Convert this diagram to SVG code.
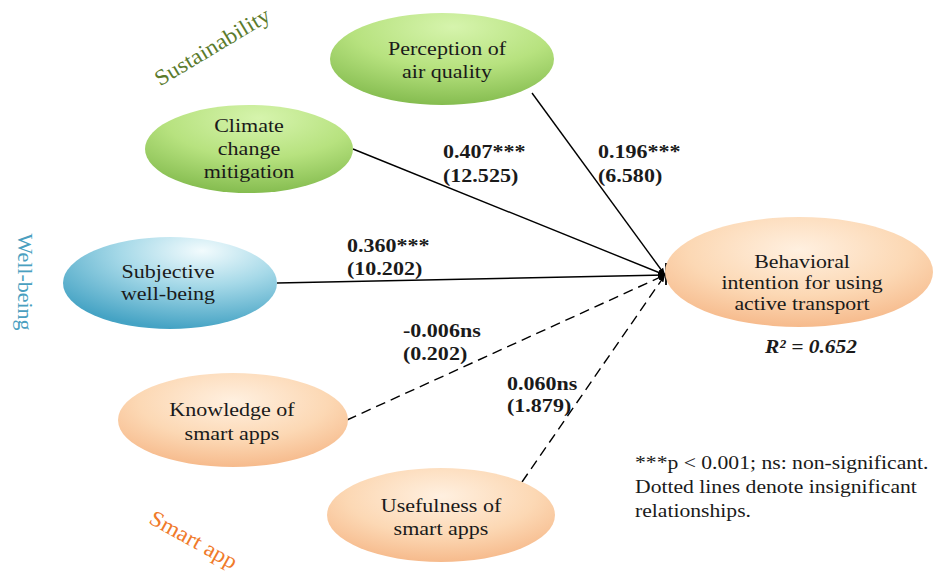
<svg xmlns="http://www.w3.org/2000/svg" width="935" height="576" viewBox="0 0 935 576" font-family="'Liberation Serif', serif">
  <defs>
    <radialGradient id="gGreen" cx="0.55" cy="0.15" r="0.9">
      <stop offset="0" stop-color="#d6f4ad"/>
      <stop offset="0.5" stop-color="#b7e27f"/>
      <stop offset="1" stop-color="#7fb84a"/>
    </radialGradient>
    <radialGradient id="gBlue" cx="0.65" cy="0.15" r="0.85">
      <stop offset="0" stop-color="#f2fbfd"/>
      <stop offset="0.45" stop-color="#a6d9e8"/>
      <stop offset="1" stop-color="#45a3c4"/>
    </radialGradient>
    <radialGradient id="gOrange" cx="0.5" cy="0.3" r="0.75">
      <stop offset="0" stop-color="#fff0e0"/>
      <stop offset="0.55" stop-color="#fcd8b4"/>
      <stop offset="1" stop-color="#f5b585"/>
    </radialGradient>
    <marker id="tip" viewBox="0 0 10 10" refX="10" refY="5" markerWidth="7" markerHeight="7" orient="auto" markerUnits="userSpaceOnUse">
      <path d="M0,1 L10,5 L0,9 z" fill="#000"/>
    </marker>
  </defs>
  <style>
    .solid { stroke: #000; stroke-width: 1.4; fill: none; }
    .dash { stroke: #000; stroke-width: 1.4; fill: none; stroke-dasharray: 10 6; }
  </style>

  <rect width="935" height="576" fill="#fff"/>

  <!-- group captions -->
  <g font-family="'Liberation Serif', serif" font-size="22" text-anchor="middle">
    <text fill="#5b7b2c" transform="translate(216,53) rotate(-31) scale(1.08,1)">Sustainability</text>
    <text fill="#4a9fc0" transform="translate(18,282) rotate(90)">Well-being</text>
    <text fill="#f07a2a" transform="translate(190,546) rotate(29) scale(1.08,1)">Smart app</text>
  </g>

  <!-- paths -->
  <g id="connectors">
    <line class="solid" x1="532" y1="93" x2="665" y2="275" marker-end="url(#tip)"/>
    <line class="solid" x1="353" y1="149" x2="665" y2="275" marker-end="url(#tip)"/>
    <line class="solid" x1="277" y1="283" x2="665" y2="275" marker-end="url(#tip)"/>
    <line class="dash" x1="347" y1="420" x2="665" y2="275" marker-end="url(#tip)"/>
    <line class="dash" x1="522" y1="482" x2="665" y2="275" marker-end="url(#tip)"/>
    <line stroke="#000" stroke-width="1.8" x1="666" y1="263" x2="666" y2="285"/>
  </g>

  <g id="perception" font-family="'Liberation Serif', serif" font-size="19.5" fill="#1a1a1a" text-anchor="middle">
    <ellipse cx="442" cy="59" rx="112" ry="46" fill="url(#gGreen)"/>
    <text transform="translate(447,55) scale(1.13,1)">Perception of</text>
    <text transform="translate(447,78) scale(1.13,1)">air quality</text>
  </g>

  <g id="climate" font-family="'Liberation Serif', serif" font-size="19.5" fill="#1a1a1a" text-anchor="middle">
    <ellipse cx="249" cy="149" rx="104" ry="44" fill="url(#gGreen)"/>
    <text transform="translate(249,132) scale(1.13,1)">Climate</text>
    <text transform="translate(249,155) scale(1.13,1)">change</text>
    <text transform="translate(249,178) scale(1.13,1)">mitigation</text>
  </g>

  <g id="wellbeing" font-family="'Liberation Serif', serif" font-size="19.5" fill="#1a1a1a" text-anchor="middle">
    <ellipse cx="170" cy="283" rx="107" ry="46" fill="url(#gBlue)"/>
    <text transform="translate(168,278) scale(1.13,1)">Subjective</text>
    <text transform="translate(168,300) scale(1.13,1)">well-being</text>
  </g>

  <g id="knowledge" font-family="'Liberation Serif', serif" font-size="19.5" fill="#1a1a1a" text-anchor="middle">
    <ellipse cx="233" cy="420" rx="115" ry="47" fill="url(#gOrange)"/>
    <text transform="translate(232,416) scale(1.13,1)">Knowledge of</text>
    <text transform="translate(232,440) scale(1.13,1)">smart apps</text>
  </g>

  <g id="usefulness" font-family="'Liberation Serif', serif" font-size="19.5" fill="#1a1a1a" text-anchor="middle">
    <ellipse cx="441" cy="515" rx="114" ry="47" fill="url(#gOrange)"/>
    <text transform="translate(441,512) scale(1.13,1)">Usefulness of</text>
    <text transform="translate(441,535) scale(1.13,1)">smart apps</text>
  </g>

  <g id="intention" font-family="'Liberation Serif', serif" font-size="19.5" fill="#1a1a1a" text-anchor="middle">
    <ellipse cx="799" cy="272" rx="134" ry="55" fill="url(#gOrange)"/>
    <text transform="translate(802,268) scale(1.12,1)">Behavioral</text>
    <text transform="translate(802,289) scale(1.12,1)">intention for using</text>
    <text transform="translate(802,310) scale(1.12,1)">active transport</text>
  </g>

  <!-- path coefficients with t-values -->
  <g id="coefficients" font-family="'Liberation Serif', serif" font-size="19.5" font-weight="bold" fill="#1a1a1a">
    <text transform="translate(443,158) scale(1.13,1)">0.407***</text>
    <text transform="translate(443,182) scale(1.13,1)">(12.525)</text>
    <text transform="translate(598,158) scale(1.13,1)">0.196***</text>
    <text transform="translate(598,182) scale(1.13,1)">(6.580)</text>
    <text transform="translate(347,252) scale(1.13,1)">0.360***</text>
    <text transform="translate(347,275) scale(1.13,1)">(10.202)</text>
    <text transform="translate(403,337) scale(1.13,1)">-0.006ns</text>
    <text transform="translate(403,360) scale(1.13,1)">(0.202)</text>
    <text transform="translate(507,390) scale(1.13,1)">0.060ns</text>
    <text transform="translate(507,412) scale(1.13,1)">(1.879)</text>
    <text transform="translate(811,353) scale(1.1,1)" text-anchor="middle" font-style="italic">R² = 0.652</text>
  </g>

  <g id="legend" font-family="'Liberation Serif', serif" font-size="19.5" fill="#1a1a1a">
    <text transform="translate(635,469) scale(1.11,1)">***p &lt; 0.001; ns: non-significant.</text>
    <text transform="translate(635,493) scale(1.11,1)">Dotted lines denote insignificant</text>
    <text transform="translate(635,517) scale(1.11,1)">relationships.</text>
  </g>
</svg>
